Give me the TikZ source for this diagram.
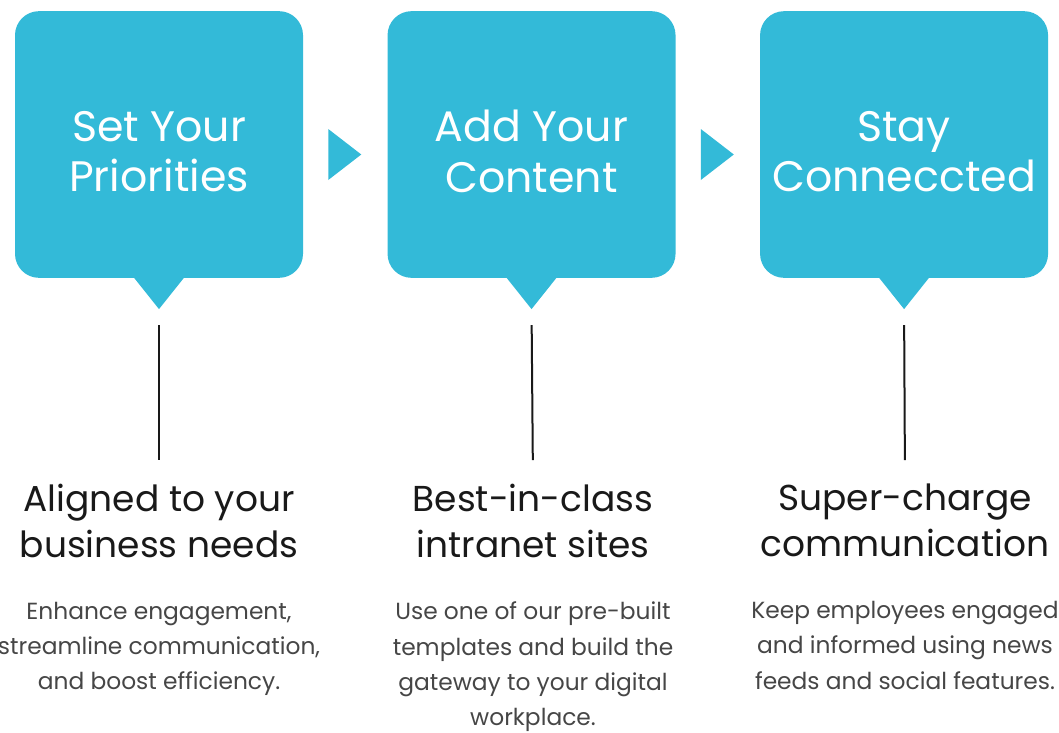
\documentclass[tikz,border=0pt]{standalone}
\usepackage{fontspec}
\setmainfont{Poppins}
\usetikzlibrary{positioning,calc}
\definecolor{stepblue}{RGB}{51,186,216}
\definecolor{headgray}{RGB}{25,25,25}
\definecolor{bodygray}{RGB}{70,70,70}

\begin{document}
\begin{tikzpicture}[
  x=0.75pt, y=-0.75pt,
  card/.style={
    rounded corners=18pt,
    fill=stepblue,
    minimum width=216pt,
    minimum height=200pt,
    inner sep=0pt
  },
  cardtitle/.style={
    text=white,
    align=center,
    inner sep=0pt,
    font=\fontsize{32}{38}\selectfont
  },
  headline/.style={
    text=headgray,
    align=center,
    inner sep=0pt,
    anchor=north,
    font=\fontsize{27}{34}\selectfont
  },
  blurb/.style={
    text=bodygray,
    align=center,
    inner sep=0pt,
    anchor=north,
    font=\fontsize{17.5}{26.5}\selectfont
  },
  stem/.style={draw=headgray, line width=1.5pt, shorten <=12pt, shorten >=18pt}
]
\useasboundingbox (0,0) rectangle (1059,732);

\node[card] (B1) at (159,144.5) {};
\node[card, right=63pt of B1] (B2) {};
\node[card, right=63pt of B2] (B3) {};

\node[cardtitle] (S1) at ($(B1)+(0,7)$) {Set Your\\Priorities};
\node[cardtitle] (S2) at ($(B2)+(0,7)$) {Add Your\\Content};
\node[cardtitle] (S3) at ($(B3)+(0,7)$) {Stay\\Conneccted};

% tails under the cards
\foreach \b in {1,2,3} {
  \fill[stepblue] ($(B\b.south)+(-25.5,-1)$) -- ($(B\b.south)+(0,31)$) coordinate (T\b)
    -- ($(B\b.south)+(25.5,-1)$) -- cycle;
}

% arrows between cards
\fill[stepblue] ($(B1.east)!0.5!(B2.west)+(-17,-15.5)$) -- ++(0,51) -- ++(33,-25.5) -- cycle;
\fill[stepblue] ($(B2.east)!0.5!(B3.west)+(-17,-15.5)$) -- ++(0,51) -- ++(33,-25.5) -- cycle;

\node[headline] (H1) at (159,484) {Aligned to your\\business needs};
\node[headline] (H2) at (533,484) {Best-in-class\\intranet sites};
\node[headline] (H3) at (905,484) {Super-charge\\communication};

\node[blurb, below=33pt of H1] (D1) {Enhance engagement,\\streamline communication,\\and boost efficiency.};
\node[blurb, below=33pt of H2] (D2) {Use one of our pre-built\\templates and build the\\gateway to your digital\\workplace.};
\node[blurb, below=33pt of H3] (D3) {Keep employees engaged\\and informed using news\\feeds and social features.};

\draw[stem] (T1) -- (H1.north);
\draw[stem] (T2) -- (H2.north);
\draw[stem] (T3) -- (H3.north);
\end{tikzpicture}
\end{document}
